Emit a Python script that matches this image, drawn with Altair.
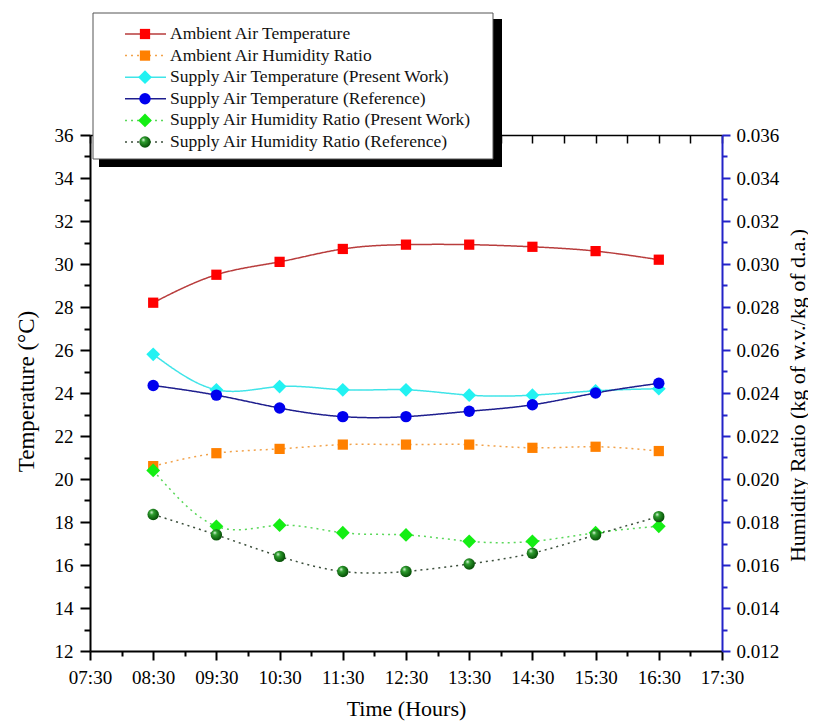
import altair as alt
import pandas as pd

# ---------------- data ----------------
times = ["08:30", "09:30", "10:30", "11:30", "12:30", "13:30", "14:30", "15:30", "16:30"]
ambient_temp = [28.2, 29.5, 30.1, 30.7, 30.9, 30.9, 30.8, 30.6, 30.2]
supply_temp_present = [25.8, 24.15, 24.3, 24.15, 24.15, 23.9, 23.9, 24.1, 24.2]
supply_temp_reference = [24.35, 23.9, 23.3, 22.9, 22.9, 23.15, 23.45, 24.0, 24.45]
ambient_hum = [0.0206, 0.0212, 0.0214, 0.0216, 0.0216, 0.0216, 0.02145, 0.0215, 0.0213]
supply_hum_present = [0.0204, 0.0178, 0.01785, 0.0175, 0.0174, 0.0171, 0.0171, 0.0175, 0.0178]
supply_hum_reference = [0.01835, 0.0174, 0.0164, 0.0157, 0.0157, 0.01605, 0.01655, 0.0174, 0.01825]

names = [
    "Ambient Air Temperature",
    "Ambient Air Humidity Ratio",
    "Supply Air Temperature (Present Work)",
    "Supply Air Temperature (Reference)",
    "Supply Air Humidity Ratio (Present Work)",
    "Supply Air Humidity Ratio (Reference)",
]
line_colors = ["#b83c3c", "#f2a24a", "#40e4e8", "#1e1e8e", "#5ad85a", "#3c4f3c"]
marker_colors = ["#ff0000", "#ff8000", "#22f2f2", "#0000ee", "#14ee14", "#0b7a0b"]
marker_shapes = ["square", "square", "diamond", "circle", "diamond", "circle"]
marker_sizes = [105, 105, 190, 130, 190, 130]
dashes = [[1, 0], [2, 4], [1, 0], [1, 0], [2, 4], [2, 4]]

x_ticks = ["07:30", "08:30", "09:30", "10:30", "11:30", "12:30", "13:30", "14:30", "15:30", "16:30", "17:30"]
x_minor = ["08:00", "09:00", "10:00", "11:00", "12:00", "13:00", "14:00", "15:00", "16:00", "17:00"]
t_ticks = [12, 14, 16, 18, 20, 22, 24, 26, 28, 30, 32, 34, 36]
t_minor = [13, 15, 17, 19, 21, 23, 25, 27, 29, 31, 33, 35]
h_ticks = [0.012, 0.014, 0.016, 0.018, 0.020, 0.022, 0.024, 0.026, 0.028, 0.030, 0.032, 0.034, 0.036]
h_minor = [0.013, 0.015, 0.017, 0.019, 0.021, 0.023, 0.025, 0.027, 0.029, 0.031, 0.033, 0.035]


def to_hours(s):
    h, m = s.split(":")
    return int(h) + int(m) / 60.0


hours = [to_hours(t) for t in times]
x_major_vals = [to_hours(t) for t in x_ticks]
x_minor_vals = [to_hours(t) for t in x_minor]
x_half_vals = sorted(x_major_vals + x_minor_vals)

temp_series = {names[0]: ambient_temp, names[2]: supply_temp_present, names[3]: supply_temp_reference}
hum_series = {names[1]: ambient_hum, names[4]: supply_hum_present, names[5]: supply_hum_reference}

temp_df = pd.DataFrame(
    [{"time": h, "series": s, "value": v} for s, vals in temp_series.items() for h, v in zip(hours, vals)]
)
hum_df = pd.DataFrame(
    [{"time": h, "series": s, "value": v} for s, vals in hum_series.items() for h, v in zip(hours, vals)]
)
leg_df = pd.DataFrame({"series": names})
one_df = pd.DataFrame({"a": [0]})

# ---------------- styling ----------------
FONT = "Liberation Serif"
W, H = 632, 516
BLUE = "#2323c8"

xscale = alt.Scale(domain=[7.5, 17.5], nice=False, zero=False)
tscale = alt.Scale(domain=[12, 36], nice=False, zero=False)
hscale = alt.Scale(domain=[0.012, 0.036], nice=False, zero=False)

stroke_scale = alt.Scale(domain=names, range=line_colors)
fill_scale = alt.Scale(domain=names, range=marker_colors)
shape_scale = alt.Scale(domain=names, range=marker_shapes)
size_scale = alt.Scale(type="ordinal", domain=names, range=marker_sizes)
dash_scale = alt.Scale(domain=names, range=dashes)

sphere = alt.RadialGradient(
    gradient="radial",
    stops=[
        alt.GradientStop(offset=0, color="#eaffea"),
        alt.GradientStop(offset=0.3, color="#2f9f2f"),
        alt.GradientStop(offset=1, color="#024802"),
    ],
    x1=0.35, y1=0.3, r1=0, x2=0.42, y2=0.42, r2=0.62,
)

x_major_axis = alt.Axis(
    orient="bottom", values=x_major_vals,
    labelExpr="(floor(datum.value) < 10 ? '0' : '') + floor(datum.value) + ':30'",
    title="Time (Hours)", grid=False, labelFlush=False, labelOverlap=False,
    tickSize=9, tickWidth=2, tickColor="black", domainColor="black", domainWidth=2,
    labelFont=FONT, labelFontSize=19, labelColor="black", labelPadding=8,
    titleFont=FONT, titleFontSize=22, titleFontWeight="normal", titleColor="black",
    titleY=57, titleBaseline="middle",
)
x_minor_axis = alt.Axis(
    orient="bottom", values=x_minor_vals, labels=False, title=None, grid=False,
    domain=False, tickSize=5, tickWidth=2, tickColor="black",
)
x_top_axis = alt.Axis(
    orient="bottom", offset=-H, values=x_half_vals, labels=False, title=None, grid=False,
    domain=True, domainColor="black", domainWidth=1.5, tickSize=8, tickWidth=1.5, tickColor="black",
)
t_axis = alt.Axis(
    orient="left", values=t_ticks, format="d", title="Temperature (°C)", grid=False,
    tickSize=10, tickWidth=2, tickColor="black", domainColor="black", domainWidth=2,
    labelFont=FONT, labelFontSize=19, labelColor="black", labelPadding=7,
    titleFont=FONT, titleFontSize=23, titleFontWeight="normal", titleColor="black",
    titleAngle=270, titleX=-64, titleY=256, titleBaseline="middle", titleAlign="center",
)
t_minor_axis = alt.Axis(
    orient="left", values=t_minor, labels=False, title=None, grid=False,
    domain=False, tickSize=6, tickWidth=2, tickColor="black",
)
h_axis = alt.Axis(
    orient="right", values=h_ticks, format=".3f", title="Humidity Ratio (kg of w.v./kg of d.a.)", grid=False,
    tickSize=8, tickWidth=2, tickColor=BLUE, domainColor=BLUE, domainWidth=2,
    labelFont=FONT, labelFontSize=19, labelColor="black", labelPadding=6,
    titleFont=FONT, titleFontSize=22, titleFontWeight="normal", titleColor="black",
    titleAngle=270, titleX=75, titleY=260, titleBaseline="middle", titleAlign="center",
)
h_minor_axis = alt.Axis(
    orient="right", values=h_minor, labels=False, title=None, grid=False,
    domain=False, tickSize=5, tickWidth=2, tickColor=BLUE,
)


def series_layer(df, yscale, xaxis, yaxis):
    base = alt.Chart(df)
    lines = base.mark_line(interpolate="natural", strokeWidth=1.5).encode(
        x=alt.X("time:Q", scale=xscale, axis=xaxis),
        y=alt.Y("value:Q", scale=yscale, axis=yaxis),
        stroke=alt.Stroke("series:N", scale=stroke_scale, legend=None),
        strokeDash=alt.StrokeDash("series:N", scale=dash_scale, legend=None),
        detail="series:N",
    )
    pts = base.mark_point(filled=True, opacity=1, strokeWidth=0).encode(
        x=alt.X("time:Q", scale=xscale),
        y=alt.Y("value:Q", scale=yscale),
        fill=alt.Fill("series:N", scale=fill_scale, legend=None),
        shape=alt.Shape("series:N", scale=shape_scale, legend=None),
        size=alt.Size("series:N", scale=size_scale, legend=None),
    ).transform_filter(alt.datum.series != names[5])
    spheres = base.mark_point(filled=True, opacity=1, strokeWidth=0, shape="circle", size=130, fill=sphere).encode(
        x=alt.X("time:Q", scale=xscale),
        y=alt.Y("value:Q", scale=yscale),
    ).transform_filter(alt.datum.series == names[5])
    return alt.layer(lines, pts, spheres)


temp_layer = series_layer(temp_df, tscale, x_major_axis, t_axis)
hum_layer = series_layer(hum_df, hscale, None, h_axis)

minor_a = alt.Chart(temp_df).mark_point(opacity=0).encode(
    x=alt.X("time:Q", scale=xscale, axis=x_minor_axis),
    y=alt.Y("value:Q", scale=tscale, axis=t_minor_axis),
)
minor_b = alt.Chart(hum_df).mark_point(opacity=0).encode(
    x=alt.X("time:Q", scale=xscale, axis=x_top_axis),
    y=alt.Y("value:Q", scale=hscale, axis=h_minor_axis),
)

# ---------------- legend ----------------
leg_y = alt.Y("series:N", scale=alt.Scale(type="point", domain=names, range=[-101, 7], padding=0), axis=None)
shadow = alt.Chart(one_df).mark_rect(color="black").encode(
    x=alt.value(9), x2=alt.value(412), y=alt.value(-116), y2=alt.value(32)
)
box = alt.Chart(one_df).mark_rect(fill="white", stroke="#555555", strokeWidth=1).encode(
    x=alt.value(3), x2=alt.value(403), y=alt.value(-122), y2=alt.value(24)
)
leg_base = alt.Chart(leg_df)
leg_lines = leg_base.mark_rule(strokeWidth=1.5).encode(
    x=alt.value(35), x2=alt.value(76), y=leg_y,
    stroke=alt.Stroke("series:N", scale=stroke_scale, legend=None),
    strokeDash=alt.StrokeDash("series:N", scale=dash_scale, legend=None),
)
leg_pts = leg_base.mark_point(filled=True, opacity=1, strokeWidth=0).encode(
    x=alt.value(55), y=leg_y,
    fill=alt.Fill("series:N", scale=fill_scale, legend=None),
    shape=alt.Shape("series:N", scale=shape_scale, legend=None),
    size=alt.Size("series:N", scale=size_scale, legend=None),
).transform_filter(alt.datum.series != names[5])
leg_sphere = leg_base.mark_point(filled=True, opacity=1, strokeWidth=0, shape="circle", size=130, fill=sphere).encode(
    x=alt.value(55), y=leg_y,
).transform_filter(alt.datum.series == names[5])
leg_text = leg_base.mark_text(align="left", baseline="middle", font=FONT, fontSize=17.5, color="#111111").encode(
    x=alt.value(80), y=leg_y, text="series:N"
)
legend_layer = alt.layer(shadow, box, leg_lines, leg_pts, leg_sphere, leg_text)

chart = (
    alt.layer(temp_layer, hum_layer, minor_a, minor_b, legend_layer)
    .resolve_scale(x="independent", y="independent")
    .resolve_axis(x="independent", y="independent")
    .properties(
        width=W, height=H,
        autosize=alt.AutoSizeParams(type="none"),
        padding={"left": 82, "top": 127, "right": 86, "bottom": 73},
        background="white",
    )
    .configure_view(stroke=None)
)

chart.save("out.html", embed_options={"renderer": "svg", "actions": False})
